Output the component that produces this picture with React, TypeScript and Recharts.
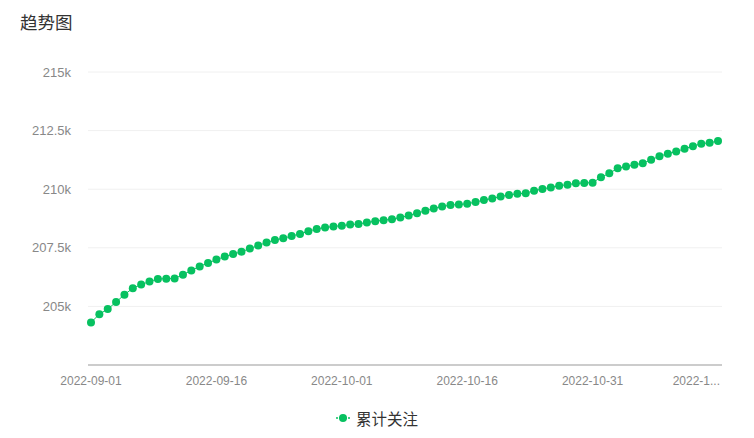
import { CartesianGrid, Line, LineChart, ReferenceLine, XAxis, YAxis } from "recharts";

const dates: string[] = [
    "2022-09-01", "2022-09-02", "2022-09-03", "2022-09-04", "2022-09-05", "2022-09-06",
    "2022-09-07", "2022-09-08", "2022-09-09", "2022-09-10", "2022-09-11", "2022-09-12",
    "2022-09-13", "2022-09-14", "2022-09-15", "2022-09-16", "2022-09-17", "2022-09-18",
    "2022-09-19", "2022-09-20", "2022-09-21", "2022-09-22", "2022-09-23", "2022-09-24",
    "2022-09-25", "2022-09-26", "2022-09-27", "2022-09-28", "2022-09-29", "2022-09-30",
    "2022-10-01", "2022-10-02", "2022-10-03", "2022-10-04", "2022-10-05", "2022-10-06",
    "2022-10-07", "2022-10-08", "2022-10-09", "2022-10-10", "2022-10-11", "2022-10-12",
    "2022-10-13", "2022-10-14", "2022-10-15", "2022-10-16", "2022-10-17", "2022-10-18",
    "2022-10-19", "2022-10-20", "2022-10-21", "2022-10-22", "2022-10-23", "2022-10-24",
    "2022-10-25", "2022-10-26", "2022-10-27", "2022-10-28", "2022-10-29", "2022-10-30",
    "2022-10-31", "2022-11-01", "2022-11-02", "2022-11-03", "2022-11-04", "2022-11-05",
    "2022-11-06", "2022-11-07", "2022-11-08", "2022-11-09", "2022-11-10", "2022-11-11",
    "2022-11-12", "2022-11-13", "2022-11-14", "2022-11-15",
];

// 累计关注
const followers: number[] = [
    204313, 204670, 204884, 205185, 205502, 205773, 205931, 206060, 206172, 206180,
    206190, 206352, 206536, 206704, 206854, 206996, 207124, 207232, 207330, 207468,
    207597, 207725, 207833, 207906, 208004, 208090, 208206, 208305, 208361, 208412,
    208446, 208489, 208519, 208575, 208635, 208678, 208721, 208790, 208876, 208979,
    209077, 209176, 209262, 209322, 209348, 209378, 209451, 209536, 209605, 209691,
    209751, 209807, 209828, 209936, 210009, 210077, 210150, 210193, 210249, 210266,
    210279, 210507, 210678, 210893, 210966, 211039, 211107, 211253, 211408, 211511,
    211609, 211725, 211837, 211940, 211983, 212051,
];

const yTicks = [205000, 207500, 210000, 212500, 215000];
const Y_MIN = 202500;
const Y_MAX = 215000;

const GREEN = "#07c160";
const FONT = "'Liberation Sans', Arial, 'Noto Sans CJK SC', sans-serif";

const data = dates.map((date, i) => ({ date, value: followers[i] }));

function XTick(props: any) {
    const { x, y, payload } = props;
    const last = payload.value === dates[dates.length - 1];
    return (
        <text
            x={last ? 720 : x}
            y={y}
            dy="0.71em"
            textAnchor={last ? "end" : "middle"}
            fill="#888"
            fontSize={12}
            fontFamily={FONT}>
            {last ? "2022-1..." : payload.value}
        </text>
    );
}

export default function App() {
    return (
        <div style={{ position: "absolute", left: 0, top: 0, width: 754, height: 438, background: "#fff" }}>
            <div
                style={{
                    position: "absolute",
                    left: 20,
                    top: 9,
                    fontSize: 17.5,
                    color: "#333",
                    fontFamily: FONT,
                }}>
                趋势图
            </div>
            <LineChart
                width={754}
                height={438}
                data={data}
                margin={{ top: 72, right: 32, bottom: 43, left: 0 }}>
                <CartesianGrid vertical={false} stroke="#f0f0f0" />
                <XAxis
                    dataKey="date"
                    height={30}
                    interval={14}
                    padding={{ left: 3, right: 4 }}
                    axisLine={false}
                    tickLine={false}
                    tickSize={0}
                    tickMargin={11}
                    tick={<XTick />}
                />
                <YAxis
                    width={88}
                    domain={[Y_MIN, Y_MAX]}
                    ticks={yTicks}
                    allowDataOverflow
                    axisLine={false}
                    tickLine={false}
                    tickSize={0}
                    tickMargin={17}
                    tick={{ fill: "#888", fontSize: 13, fontFamily: FONT }}
                    tickFormatter={(v: number) => `${v / 1000}k`}
                />
                <ReferenceLine y={Y_MIN} stroke="#cccccc" strokeWidth={2} />
                <Line
                    type="linear"
                    dataKey="value"
                    stroke={GREEN}
                    strokeWidth={1}
                    dot={{ r: 4, fill: GREEN, stroke: "none" }}
                    activeDot={false}
                    isAnimationActive={false}
                />
            </LineChart>
            <div
                style={{
                    position: "absolute",
                    top: 407,
                    left: 0,
                    width: 754,
                    display: "flex",
                    justifyContent: "center",
                    alignItems: "center",
                    fontFamily: FONT,
                    fontSize: 15.5,
                    color: "#333",
                }}>
                <svg width={14} height={10} style={{ marginRight: 6 }}>
                    <line x1={0} y1={5} x2={14} y2={5} stroke={GREEN} strokeWidth={1.5} strokeDasharray="2 1" />
                    <circle cx={7} cy={5} r={4} fill={GREEN} />
                </svg>
                <span>累计关注</span>
            </div>
        </div>
    );
}
